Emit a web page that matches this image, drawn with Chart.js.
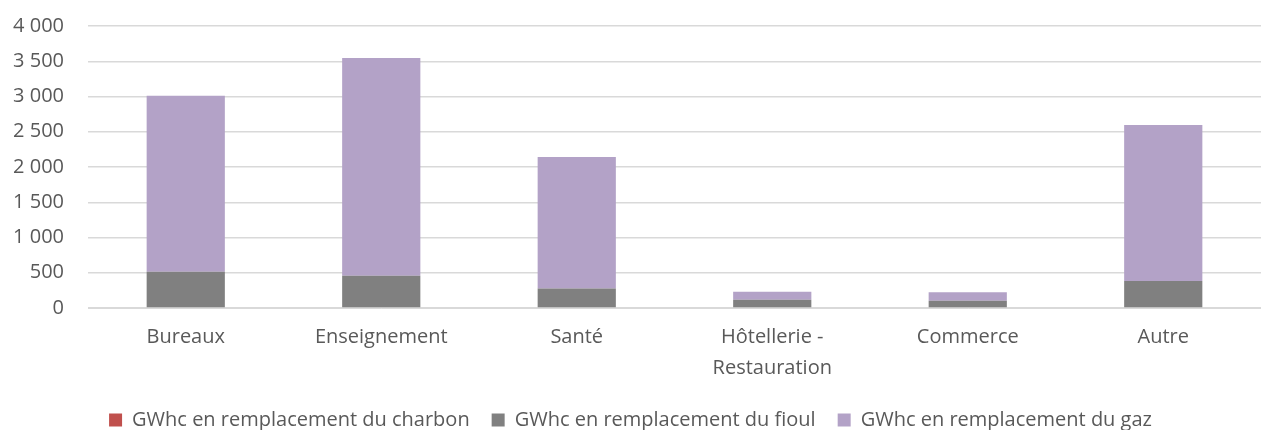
<!DOCTYPE html>
<html>
<head>
<meta charset="utf-8">
<script src="https://cdn.jsdelivr.net/npm/chart.js@4"></script>
<style>
  html, body { margin: 0; padding: 0; background: #fff; }
  #wrap { width: 1261px; height: 430px; }
</style>
</head>
<body>
<div id="wrap"><canvas id="barChart"></canvas></div>
<script>
const categories = [
  "Bureaux",
  "Enseignement",
  "Santé",
  ["Hôtellerie -", "Restauration"],
  "Commerce",
  "Autre",
];

const charbon = [0, 0, 0, 0, 0, 0];
const fioul = [515, 458, 275, 118, 104, 383];
const gaz = [2495, 3088, 1867, 113, 119, 2213];

const yTicks = [0, 500, 1000, 1500, 2000, 2500, 3000, 3500, 4000];

function formatNumber(v) {
  return String(v).replace(/\B(?=(\d{3})+(?!\d))/g, " ");
}

// shrink legend box height so it sits at the very bottom
const legendHeight = {
  id: "legendHeight",
  beforeInit(chart) {
    const fit = chart.legend.fit;
    chart.legend.fit = function () {
      fit.bind(this)();
      this.height = 42;
    };
  },
};

document.addEventListener("DOMContentLoaded", () => {
  const barChart = document.querySelector("#barChart");
  Chart.defaults.font.family = "'Open Sans', sans-serif";
  Chart.defaults.color = "#595959";

  new Chart(barChart, {
    type: "bar",
    plugins: [legendHeight],
    data: {
      labels: categories,
      datasets: [
        {
          label: "GWhc en remplacement du charbon",
          data: charbon,
          backgroundColor: "#C0504D",
        },
        {
          label: "GWhc en remplacement du fioul",
          data: fioul,
          backgroundColor: "#808080",
        },
        {
          label: "GWhc en remplacement du gaz",
          data: gaz,
          backgroundColor: "#B3A2C7",
        },
      ],
    },
    options: {
      responsive: true,
      maintainAspectRatio: false,
      animation: false,
      layout: { padding: 0 },
      datasets: {
        bar: { categoryPercentage: 0.8, barPercentage: 0.5 },
      },
      plugins: {
        tooltip: { enabled: false },
        legend: {
          position: "bottom",
          labels: {
            boxWidth: 13,
            boxHeight: 13,
            padding: 22,
            font: { size: 20 },
          },
        },
      },
      scales: {
        x: {
          stacked: true,
          grid: { display: false, drawTicks: false },
          border: { color: "#D9D9D9" },
          ticks: { font: { size: 20, lineHeight: "31px" }, padding: 14 },
          afterFit: (scale) => {
            scale.height = 80;
          },
        },
        y: {
          stacked: true,
          min: 0,
          max: 4000,
          afterBuildTicks: (axis) => {
            axis.ticks = yTicks.map((v) => ({ value: v }));
          },
          afterFit: (scale) => {
            scale.width = 88;
            scale.paddingTop = 26;
          },
          grid: { color: "#D9D9D9", lineWidth: 1.5, drawTicks: false },
          border: { display: false },
          ticks: {
            font: { size: 20 },
            padding: 24,
            callback: (v) => formatNumber(v),
          },
        },
      },
    },
  });
});
</script>
</body>
</html>
